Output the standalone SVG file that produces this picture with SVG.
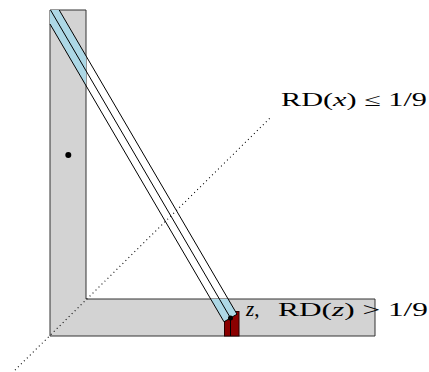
<svg xmlns="http://www.w3.org/2000/svg" width="429" height="372" viewBox="0 0 429 372">
<style>
.lbl{font-family:"Liberation Serif","DejaVu Serif",serif;font-size:18px;fill:#000}
.it{font-style:italic}
.big{font-size:21px}
.ln{fill:none;stroke:#000;stroke-width:1}
</style>
<defs>
<clipPath id="lclip"><path d="M50,10 H86 V299 H375 V336 H50 Z"/></clipPath>
</defs>
<rect width="429" height="372" fill="#fff"/>
<g id="region">
<path d="M50,10 H86 V299 H375 V336 H50 Z" fill="#d3d3d3" stroke="#333" stroke-width="1"/>
</g>
<g id="red">
<rect x="224.5" y="311.5" width="14.5" height="24.5" fill="#8b0000" stroke="#2a0000" stroke-width="1"/>
<line x1="230.5" y1="318" x2="230.5" y2="336" stroke="#000" stroke-width="1"/>
</g>
<g id="strip">
<polygon points="41.8,10 59.2,10 237,314.2 224,321.8" fill="#add8e6" clip-path="url(#lclip)"/>
</g>
<g id="connectors">
<line class="ln" x1="59.2" y1="10" x2="237" y2="314.2"/>
<line class="ln" x1="50.5" y1="10" x2="230.5" y2="318"/>
<line class="ln" x1="50" y1="24" x2="224" y2="321.8"/>
<line class="ln" x1="224" y1="321.8" x2="237" y2="314.2"/>
<line x1="12" y1="373" x2="270" y2="118" stroke="#000" stroke-width="1.1" stroke-dasharray="1 3.2"/>
</g>
<g id="x">
<circle cx="68.3" cy="155" r="3" fill="#000"/>
</g>
<g id="z">
<circle cx="230.5" cy="318" r="2.5" fill="#000"/>
</g>
<g id="labels">
<text class="lbl" x="281" y="106" textLength="146" lengthAdjust="spacingAndGlyphs">RD(<tspan class="it">x</tspan>) ≤ 1/9</text>
<text class="lbl big" x="246" y="316"><tspan class="it">z</tspan>,</text>
<text class="lbl" x="278" y="316" textLength="150" lengthAdjust="spacingAndGlyphs">RD(<tspan class="it">z</tspan>) &gt; 1/9</text>
</g>
</svg>
